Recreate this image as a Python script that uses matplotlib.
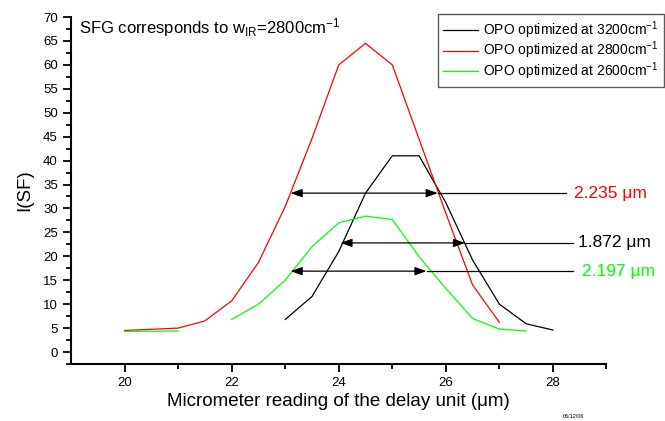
import numpy as np
from matplotlib import pyplot as plt

plt.rcParams['font.family'] = ['Liberation Sans', 'DejaVu Sans']
plt.rcParams['mathtext.fontset'] = 'custom'
plt.rcParams['mathtext.rm'] = 'Liberation Sans'
plt.rcParams['mathtext.it'] = 'Liberation Sans'

# data
x_3200 = [23, 23.5, 24, 24.5, 25, 25.5, 26, 26.5, 27, 27.5, 28]
y_3200 = [6.8, 11.6, 21.0, 33.2, 41.0, 41.0, 31.2, 19.2, 10.0, 5.9, 4.6]

x_2800 = [20, 21, 21.5, 22, 22.5, 23, 23.5, 24, 24.5, 25, 25.5, 26, 26.5, 27]
y_2800 = [4.5, 5.0, 6.5, 10.7, 18.7, 30.4, 44.6, 60.0, 64.5, 60.0, 44.5, 29.0, 14.0, 6.2]

x_2600 = [20, 21, 21.5, 22, 22.5, 23, 23.5, 24, 24.5, 25, 25.5, 26, 26.5, 27, 27.5]
y_2600 = [4.3, 4.4, np.nan, 6.8, 10.0, 15.0, 22.0, 27.0, 28.4, 27.7, 19.9, 13.3, 7.0, 4.8, 4.4]

labels = ['OPO optimized at 3200cm$^{-1}$',
          'OPO optimized at 2800cm$^{-1}$',
          'OPO optimized at 2600cm$^{-1}$']
colors = ['black', '#ff0000', '#00ff00']

# FWHM arrows: (y, left tip, right tip, line end, text x, text)
fwhm_y = [33.2, 22.8, 16.9]
fwhm_left = [23.1, 24.03, 23.1]
fwhm_right = [25.85, 26.36, 25.64]
fwhm_end = [28.24, 28.37, 28.38]
fwhm_text_x = [28.40, 28.47, 28.54]
fwhm_text = ['2.235 \u03bcm', '1.872 \u03bcm', '2.197 \u03bcm']
fwhm_colors = ['#ff0000', 'black', '#00ff00']

fig = plt.figure(figsize=(6.65, 4.21), dpi=100)
ax = fig.add_axes([0.1068, 0.1354, 0.8052, 0.8242])

for xs, ys, c, lab in zip([x_3200, x_2800, x_2600], [y_3200, y_2800, y_2600], colors, labels):
    ax.plot(xs, ys, c=c, lw=0.9, label=lab)

for y, l, r, e, tx, t, c in zip(fwhm_y, fwhm_left, fwhm_right, fwhm_end,
                                fwhm_text_x, fwhm_text, fwhm_colors):
    ax.plot([r, e], [y, y], c='black', lw=0.9)
    ax.annotate('', xy=(l, y), xytext=(r, y),
                arrowprops=dict(arrowstyle='<|-|>,head_length=0.7,head_width=0.25',
                                color='black', lw=0.9, shrinkA=0, shrinkB=0))
    ax.text(tx, y, t, color=c, fontsize=12.5, ha='left', va='center')

ax.text(0.0149, 0.954, 'SFG corresponds to w$_{\\mathrm{IR}}$=2800cm$^{-1}$',
        transform=ax.transAxes, fontsize=12, ha='left', va='baseline')

ax.set_xlim(19, 29)
ax.set_ylim(-2.5, 70)
ax.set_xticks([20, 22, 24, 26, 28])
ax.set_xticks([21, 23, 25, 27, 29], minor=True)
ax.set_yticks(np.arange(0, 71, 5))
ax.set_yticks(np.arange(-2.5, 70, 5), minor=True)
ax.spines['top'].set_visible(False)
ax.spines['right'].set_visible(False)
ax.spines['left'].set_linewidth(1.5)
ax.spines['bottom'].set_linewidth(1.5)
ax.tick_params(axis='both', which='major', length=6, width=1.3, labelsize=9.5)
ax.tick_params(axis='both', which='minor', length=3.5, width=1.3)
ax.set_xlabel('Micrometer reading of the delay unit (\u03bcm)', fontsize=13.5, labelpad=3)
ax.set_ylabel('I(SF)', fontsize=13.5, labelpad=7)

leg = ax.legend(loc='upper right', bbox_to_anchor=(664 / 665, 1 - 14 / 421),
                bbox_transform=fig.transFigure, fontsize=10, frameon=True,
                fancybox=False, handlelength=2.5, handletextpad=0.36,
                labelspacing=-0.1, borderpad=0.4, borderaxespad=0)
leg.get_frame().set_edgecolor('#333333')
leg.get_frame().set_linewidth(1.0)

fig.text(563 / 665, 1 - 417 / 421, '06/12/06', fontsize=4, ha='left', va='center')

plt.savefig('out.png', dpi=100)
